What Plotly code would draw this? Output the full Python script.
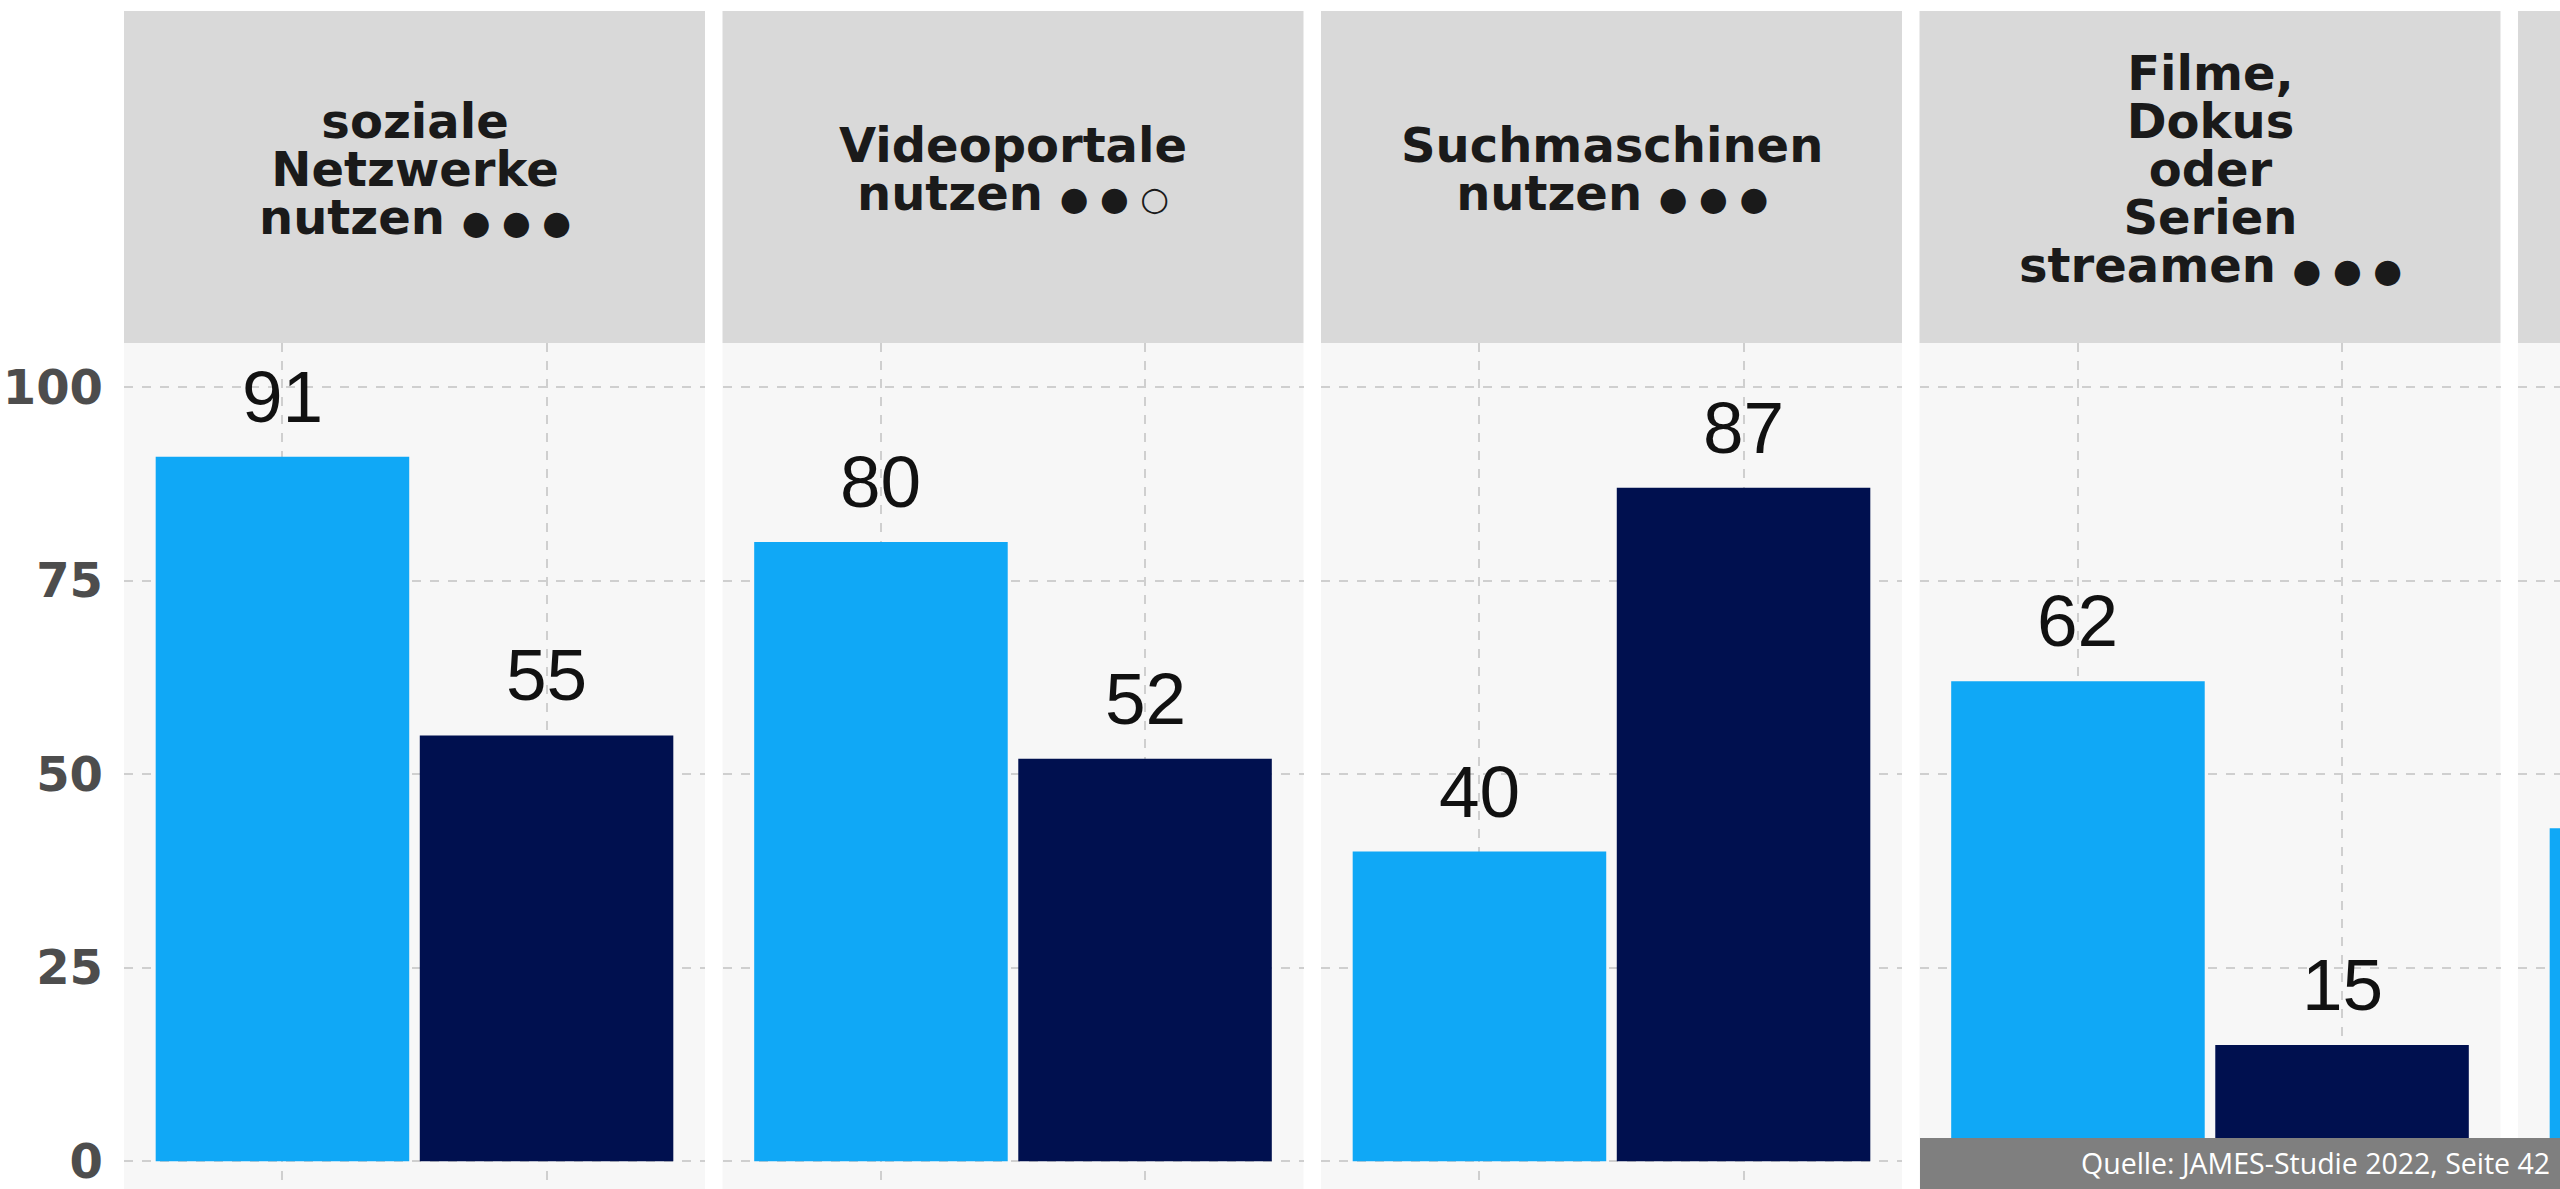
import plotly.graph_objects as go

# ---------------- data ----------------
strip_lines = [
    ["soziale", "Netzwerke", "nutzen"],
    ["Videoportale", "nutzen"],
    ["Suchmaschinen", "nutzen"],
    ["Filme,", "Dokus", "oder", "Serien", "streamen"],
    [],
]
strip_marks = ["● ● ●", "● ● ○", "● ● ●", "● ● ●", ""]
series_names = ["Gruppe 1", "Gruppe 2"]
values_light = [91, 80, 40, 62, 43]
values_dark = [55, 52, 87, 15, None]
y_ticks = [0, 25, 50, 75, 100]
source_text = "Quelle: JAMES-Studie 2022, Seite 42"

# ---------------- style ----------------
W, H = 2560, 1189
LIGHT = "#10A8F6"
DARK = "#00104F"
STRIP = "#D9D9D9"
PANEL_BG = "#F7F7F7"
GRID = "#CFCFCF"

panel_left0 = 124.0
panel_step = 598.5
panel_w = 581.0
strip_top = 11.0
strip_bottom = 343.0
strip_text_center = 169.0
x_lo, x_hi = -0.6, 1.6
y_range = [-3.6, 105.7]

STRIP_FONT = 48      # glyph size
STRIP_BASE = 37      # sets line spacing (1.3 em -> ~48 px)
MARK_FONT = 33

fig = go.Figure()
shapes = []
annotations = []
layout_axes = {}

series_values = [values_light, values_dark]
series_colors = [LIGHT, DARK]

for i, lines in enumerate(strip_lines):
    n = "" if i == 0 else str(i + 1)
    left = panel_left0 + i * panel_step
    right = left + panel_w
    d0 = left / W
    d1 = min(right / W, 1.0)
    if right > W:
        r1 = x_lo + (x_hi - x_lo) * (W - left) / panel_w
    else:
        r1 = x_hi
    layout_axes["xaxis" + n] = dict(
        domain=[d0, d1], range=[x_lo, r1], type="category",
        categoryorder="array", categoryarray=series_names,
        showticklabels=False, showgrid=True, griddash="dash",
        gridcolor=GRID, gridwidth=1.5, zeroline=False, showline=False,
        anchor="y" + n, fixedrange=True,
    )
    yax = dict(
        domain=[0, (H - strip_bottom) / H], range=y_range,
        tickvals=y_ticks, showgrid=True, griddash="dash",
        gridcolor=GRID, gridwidth=1.5, zeroline=False, showline=False,
        anchor="x" + n, fixedrange=True,
    )
    if i == 0:
        yax.update(showticklabels=True, ticks="", ticklabelstandoff=20,
                   tickfont=dict(family="DejaVu Sans", size=48,
                                 color="#4D4D4D", weight="bold"))
    else:
        yax.update(showticklabels=False, matches="y")
    layout_axes["yaxis" + n] = yax

    for j, sname in enumerate(series_names):
        v = series_values[j][i]
        if v is None:
            continue
        fig.add_trace(go.Bar(
            x=[sname], y=[v], width=0.96,
            marker=dict(color=series_colors[j], line=dict(width=0)),
            xaxis="x" + n, yaxis="y" + n, showlegend=False, hoverinfo="skip",
        ))
        annotations.append(dict(
            x=sname, y=v, xref="x" + n, yref="y" + n, text=str(v),
            showarrow=False, yanchor="bottom", xanchor="center", yshift=18,
            font=dict(family="Liberation Sans, Arial", size=73, color="#111111"),
        ))

    # strip box
    shapes.append(dict(
        type="rect", xref="paper", yref="paper",
        x0=left / W, x1=right / W,
        y0=(H - strip_bottom) / H, y1=(H - strip_top) / H,
        fillcolor=STRIP, line=dict(width=0), layer="below",
    ))
    if lines:
        parts = [f"<span style='font-size:{STRIP_FONT}px'>{ln}</span>" for ln in lines]
        if strip_marks[i]:
            parts[-1] = (f"<span style='font-size:{STRIP_FONT}px'>{lines[-1]} </span>"
                         f"<span style='font-size:{MARK_FONT}px'>{strip_marks[i]}</span>")
        annotations.append(dict(
            x=(left + right) / 2 / W, y=(H - strip_text_center) / H,
            xref="paper", yref="paper",
            text="<br>".join(parts), showarrow=False,
            xanchor="center", yanchor="middle", align="center",
            font=dict(family="DejaVu Sans", size=STRIP_BASE,
                      color="#1A1A1A", weight="bold"),
        ))

# source box
shapes.append(dict(
    type="rect", xref="paper", yref="paper",
    x0=1920 / W, x1=1.0, y0=0, y1=51 / H,
    fillcolor="#7F7F7F", line=dict(width=0), layer="above",
))
annotations.append(dict(
    x=2552 / W, y=(H - 1163) / H, xref="paper", yref="paper",
    text=source_text, showarrow=False, xanchor="right", yanchor="middle",
    font=dict(family="Open Sans", size=28.5, color="#FFFFFF"),
))

fig.update_layout(
    width=W, height=H,
    margin=dict(l=0, r=0, t=0, b=0, pad=0),
    paper_bgcolor="#FFFFFF",
    plot_bgcolor=PANEL_BG,
    barmode="overlay",
    showlegend=False,
    shapes=shapes,
    annotations=annotations,
    **layout_axes,
)

fig.write_html(
    "out.html",
    config={"displayModeBar": False},
    post_script="document.body.style.margin='0';document.body.style.overflow='hidden';",
)
